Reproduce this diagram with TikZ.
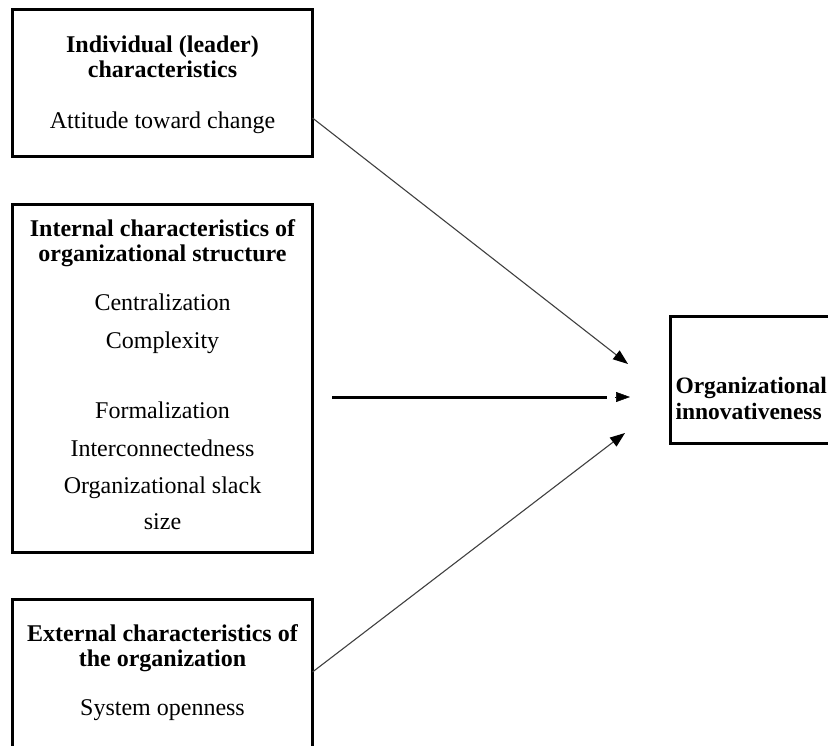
\documentclass[tikz,border=0pt]{standalone}
\usepackage{fontspec}
\setmainfont{Liberation Serif}
\usetikzlibrary{arrows.meta}
\begin{document}
\begin{tikzpicture}[x=1pt, y=-1pt,
  every node/.style={inner sep=0pt, outer sep=0pt},
  box/.style={draw, line width=3pt, rectangle},
  headline/.style={font=\fontsize{24}{26}\selectfont\bfseries, anchor=base},
  bodyline/.style={font=\fontsize{24}{26}\selectfont, anchor=base},
  outcome/.style={font=\fontsize{23.5}{26}\selectfont\bfseries, anchor=base west},
  thinlink/.style={draw=black!75, line width=1.1pt,
    -{Triangle[length=15pt, width=11pt, color=black]}},
  thicklink/.style={draw=black, line width=3pt},
  loosetip/.style={draw=black, line width=0.5pt,
    -{Triangle[length=14pt, width=10pt, color=black]}}
]
\useasboundingbox (0,0) rectangle (828,745);
\clip (0,0) rectangle (828,745);

% boxes
\node[box, minimum width=300pt, minimum height=146.5pt] (box1) at (162.5,82.75) {};
\node[box, minimum width=300pt, minimum height=348pt]   (box2) at (162.5,378) {};
\node[box, minimum width=300pt, minimum height=170.5pt] (box3) at (162.5,684.75) {};
\node[box, minimum width=209.5pt, minimum height=127pt] (box4) at (775.25,379.5) {};

% individual (leader) characteristics
\node[headline] (h11) at (162.5,52) {Individual (leader)};
\node[headline] (h12) at (162.5,77) {characteristics};
\node[bodyline] (b11) at (162.5,128) {Attitude toward change};

% internal characteristics of organizational structure
\node[headline] (h21) at (162.5,236) {Internal characteristics of};
\node[headline] (h22) at (162.5,261) {organizational structure};
\node[bodyline] (b21) at (162.5,310) {Centralization};
\node[bodyline] (b22) at (162.5,348) {Complexity};
\node[bodyline] (b23) at (162.5,418) {Formalization};
\node[bodyline] (b24) at (162.5,456) {Interconnectedness};
\node[bodyline] (b25) at (162.5,493) {Organizational slack};
\node[bodyline] (b26) at (162.5,529) {size};

% external characteristics of the organization
\node[headline] (h31) at (162.5,641) {External characteristics of};
\node[headline] (h32) at (162.5,666) {the organization};
\node[bodyline] (b31) at (162.5,715) {System openness};

% outcome
\node[outcome] (h41) at (675.5,393) {Organizational};
\node[outcome] (h42) at (675.5,419) {innovativeness};

% connector end points
\coordinate (a1s) at (box1.east |- 0,118);
\coordinate (a1e) at (628,364);
\coordinate (a2s) at (332,397);
\coordinate (a2m) at (607,397);
\coordinate (a2h) at (615,397);
\coordinate (a2e) at (630,397);
\coordinate (a3s) at (box3.east |- 0,672);
\coordinate (a3e) at (625,433);

% connectors
\draw[thinlink] (a1s) -- (a1e);
\draw[thicklink] (a2s) -- (a2m);
\draw[loosetip] (a2h) -- (a2e);
\draw[thinlink] (a3s) -- (a3e);
\end{tikzpicture}
\end{document}
